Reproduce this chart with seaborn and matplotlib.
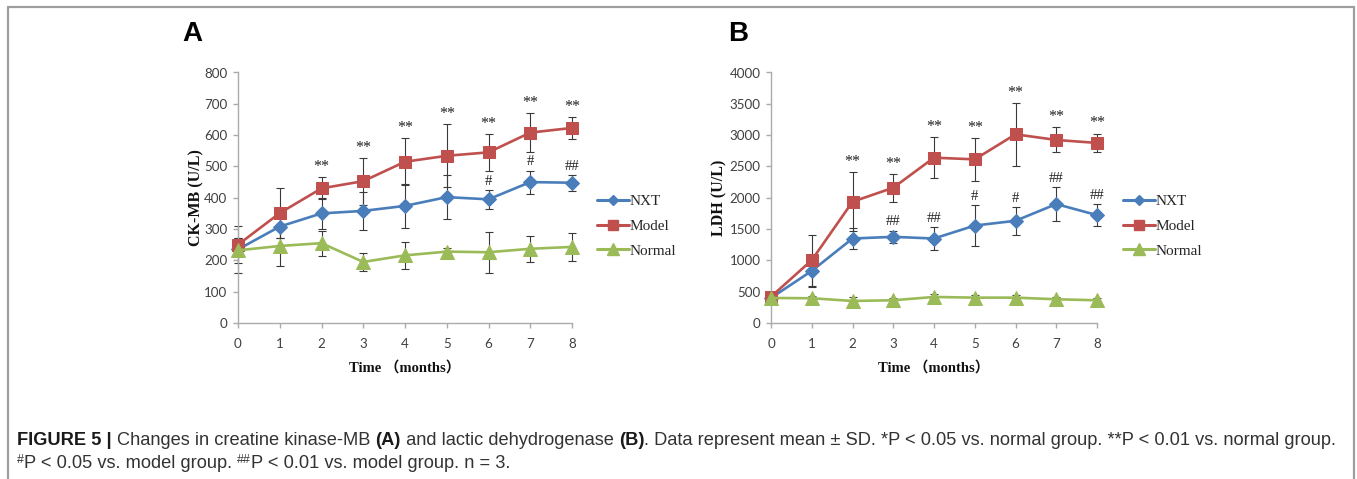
import numpy as np
import pandas as pd
import matplotlib
matplotlib.use("Agg")
import matplotlib.pyplot as plt
import seaborn as sns
from matplotlib.lines import Line2D
from matplotlib.transforms import IdentityTransform

# ---------------- data ----------------
months = [0, 1, 2, 3, 4, 5, 6, 7, 8]
groups = ["NXT", "Model", "Normal"]

nxt_ck = [235, 308, 350, 358, 374, 402, 395, 450, 448]
nxt_ck_sd = [75, 35, 50, 60, 70, 70, 30, 37, 25]
model_ck = [250, 351, 430, 453, 515, 534, 545, 608, 623]
model_ck_sd = [20, 80, 35, 75, 75, 100, 58, 62, 35]
normal_ck = [232, 246, 255, 195, 216, 228, 226, 237, 243]
normal_ck_sd = [40, 65, 40, 30, 42, 10, 65, 42, 45]

nxt_ldh = [400, 832, 1349, 1376, 1349, 1556, 1632, 1899, 1723]
nxt_ldh_sd = [60, 260, 160, 100, 180, 330, 220, 270, 175]
model_ldh = [420, 1003, 1936, 2160, 2640, 2613, 3013, 2923, 2875]
model_ldh_sd = [40, 410, 470, 220, 330, 340, 500, 200, 150]
normal_ldh = [400, 395, 352, 363, 416, 405, 405, 379, 363]
normal_ldh_sd = [30, 40, 60, 40, 50, 40, 40, 30, 30]

ck_model_sig = ["", "", "**", "**", "**", "**", "**", "**", "**"]
ck_nxt_sig = ["", "", "", "", "", "", "#", "#", "##"]
ldh_model_sig = ["", "", "**", "**", "**", "**", "**", "**", "**"]
ldh_nxt_sig = ["", "", "", "##", "##", "#", "#", "##", "##"]

ck_yticks = [0, 100, 200, 300, 400, 500, 600, 700, 800]
ldh_yticks = [0, 500, 1000, 1500, 2000, 2500, 3000, 3500, 4000]

# ---------------- style ----------------
sns.set_theme(style="white")
plt.rcParams["font.family"] = ["Liberation Sans", "DejaVu Sans"]

colors = {"NXT": "#4A7EBB", "Model": "#C0504D", "Normal": "#9BBB59"}
markers = {"NXT": "D", "Model": "s", "Normal": "^"}
msizes = {"NXT": 6.8, "Model": 8.3, "Normal": 10.3}

W, H = 1357, 479
fig = plt.figure(figsize=(W / 100, H / 100), dpi=100)


def axrect(left, right, top, bottom):
    return [left / W, 1 - bottom / H, (right - left) / W, (bottom - top) / H]


axA = fig.add_axes(axrect(238, 572, 72.5, 323))
axB = fig.add_axes(axrect(771, 1097, 72.5, 323))

tick_font = dict(family="Lato", size=9.6)
serif_bold = ["Liberation Serif", "Noto Sans CJK SC"]


def draw_panel(ax, series, sds, model_sig, nxt_sig, yticks, ylabel, ylab_x):
    df = pd.DataFrame({"month": months * 3,
                       "value": series["NXT"] + series["Model"] + series["Normal"],
                       "sd": sds["NXT"] + sds["Model"] + sds["Normal"],
                       "group": [g for g in groups for _ in months]})
    for g in groups:
        sub = df[df["group"] == g]
        ax.errorbar(sub["month"], sub["value"], yerr=sub["sd"], fmt="none",
                    ecolor="#3a3a3a", elinewidth=0.8, capsize=2.6,
                    capthick=0.8, clip_on=False, zorder=2)
        sns.lineplot(data=sub, x="month", y="value", ax=ax, color=colors[g],
                     marker=markers[g], markersize=msizes[g],
                     markeredgecolor=colors[g], linewidth=1.9,
                     clip_on=False, zorder=3, legend=False, errorbar=None)
    # significance marks
    for i, m in enumerate(months):
        if model_sig[i]:
            top = series["Model"][i] + sds["Model"][i]
            ax.annotate(model_sig[i], (m, top), xytext=(0, 1.5),
                        textcoords="offset points", ha="center", va="bottom",
                        fontsize=11.5, family="Liberation Serif", color="#222222")
        if nxt_sig[i]:
            top = series["NXT"][i] + sds["NXT"][i]
            ax.annotate(nxt_sig[i], (m, top), xytext=(0, 1.5),
                        textcoords="offset points", ha="center", va="bottom",
                        fontsize=10.5, family="Liberation Serif", color="#222222")

    ax.set_xlim(0, 8)
    ax.set_ylim(yticks[0], yticks[-1])
    ax.set_xticks(months)
    ax.set_yticks(yticks)
    ax.set_xticklabels([str(m) for m in months], **tick_font, color="#404040")
    ax.set_yticklabels([str(v) for v in yticks], **tick_font, color="#404040")
    for s in ["top", "right"]:
        ax.spines[s].set_visible(False)
    for s in ["left", "bottom"]:
        ax.spines[s].set_color("#ABABAB")
        ax.spines[s].set_linewidth(1.0)
    ax.tick_params(axis="both", which="major", direction="out", length=3.5,
                   width=1.0, color="#ABABAB", left=True, bottom=True, pad=4)
    ax.tick_params(axis="x", pad=7)
    ax.set_ylabel(ylabel, family=serif_bold, fontweight="bold", fontsize=11.5,
                  color="#111111")
    ax.yaxis.set_label_coords(ylab_x, 0.5)
    ax.set_xlabel("Time （months）", family=serif_bold, fontweight="bold",
                  fontsize=10.5, color="#111111")
    ax.xaxis.set_label_coords(0.5, -0.148)
    ax.grid(False)
    ax.set_facecolor("none")


draw_panel(axA,
           {"NXT": nxt_ck, "Model": model_ck, "Normal": normal_ck},
           {"NXT": nxt_ck_sd, "Model": model_ck_sd, "Normal": normal_ck_sd},
           ck_model_sig, ck_nxt_sig, ck_yticks, "CK-MB (U/L)", -0.100)
draw_panel(axB,
           {"NXT": nxt_ldh, "Model": model_ldh, "Normal": normal_ldh},
           {"NXT": nxt_ldh_sd, "Model": model_ldh_sd, "Normal": normal_ldh_sd},
           ldh_model_sig, ldh_nxt_sig, ldh_yticks, "LDH (U/L)", -0.135)

# legends
handles = [Line2D([0], [0], color=colors[g], marker=markers[g],
                  markersize=msizes[g] * 0.8, markeredgecolor=colors[g],
                  linewidth=2.2) for g in groups]
for xpix in (597, 1123):
    fig.legend(handles, groups, loc="center left",
               bbox_to_anchor=(xpix / W, 1 - 226 / H),
               bbox_transform=fig.transFigure, frameon=False,
               prop=dict(family="Liberation Serif", size=11),
               handlelength=2.1, handletextpad=0.05, labelspacing=0.72,
               borderpad=0, borderaxespad=0)

# panel letters
fig.text(192 / W, 1 - 34 / H, "A", ha="center", va="center", fontsize=20,
         fontweight="bold", color="black")
fig.text(738 / W, 1 - 34 / H, "B", ha="center", va="center", fontsize=20,
         fontweight="bold", color="black")

# frame
frame_kw = dict(color="#9E9E9E", linewidth=1.6, transform=fig.transFigure)
fig.add_artist(Line2D([8 / W, 8 / W], [0, 1 - 7 / H], **frame_kw))
fig.add_artist(Line2D([8 / W, 1354 / W], [1 - 7 / H, 1 - 7 / H], **frame_kw))
fig.add_artist(Line2D([1354 / W, 1354 / W], [0, 1 - 7 / H], **frame_kw))

# caption
renderer = fig.canvas.get_renderer()
cap_size = 13.15


def seg_width(text, **kw):
    t1 = fig.text(0, 0, text + "|", transform=IdentityTransform(), **kw)
    t2 = fig.text(0, 0, "|", transform=IdentityTransform(), **kw)
    w = t1.get_window_extent(renderer).width - t2.get_window_extent(renderer).width
    t1.remove()
    t2.remove()
    return w


def draw_line(x, y, segments):
    for text, kind in segments:
        kw = dict(family="Liberation Sans", fontsize=cap_size, color="#333333")
        dy = 0
        if kind == "bold":
            kw.update(fontweight="bold", color="#1a1a1a")
        elif kind == "sup":
            kw.update(fontsize=cap_size * 0.68)
            dy = 5
        fig.text(x, y + dy, text, transform=IdentityTransform(), va="baseline",
                 ha="left", **kw)
        x += seg_width(text, **kw)


draw_line(17, H - 445, [
    ("FIGURE 5 | ", "bold"),
    ("Changes in creatine kinase-MB ", "n"),
    ("(A)", "bold"),
    (" and lactic dehydrogenase ", "n"),
    ("(B)", "bold"),
    (". Data represent mean ± SD. *P < 0.05 vs. normal group. **P < 0.01 vs. normal group.", "n"),
])
draw_line(17, H - 468, [
    ("#", "sup"),
    ("P < 0.05 vs. model group. ", "n"),
    ("##", "sup"),
    ("P < 0.01 vs. model group. n = 3.", "n"),
])

fig.savefig("out.png", dpi=100, facecolor="white")
